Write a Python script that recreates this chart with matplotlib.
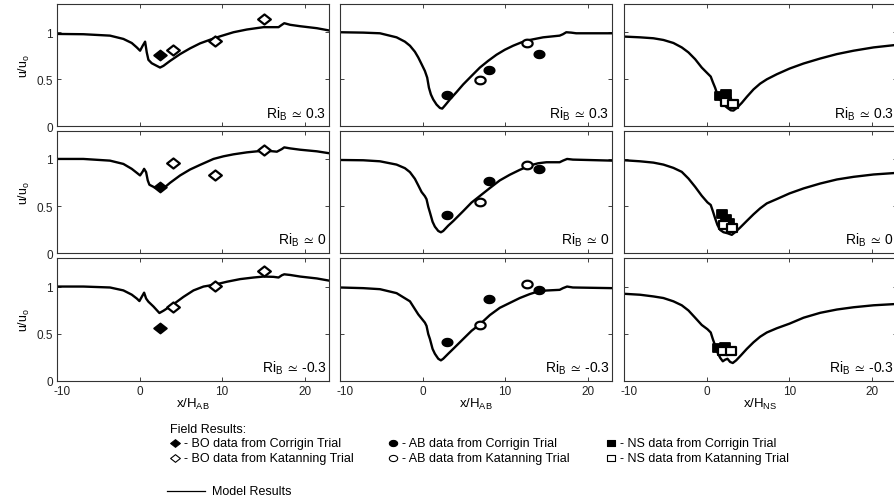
import numpy as np
import matplotlib
matplotlib.use('Agg')
import matplotlib.pyplot as plt
import matplotlib.transforms as mtransforms
from matplotlib.path import Path
from matplotlib.lines import Line2D

plt.rcParams['font.family'] = ['Liberation Sans', 'DejaVu Sans']
plt.rcParams['mathtext.fontset'] = 'custom'
plt.rcParams['mathtext.rm'] = 'Liberation Sans'
plt.rcParams['mathtext.it'] = 'Liberation Sans:italic'
plt.rcParams['mathtext.bf'] = 'Liberation Sans:bold'
plt.rcParams['mathtext.fallback'] = 'stixsans'
plt.rcParams['axes.unicode_minus'] = False

# ---------------- data ----------------
ri_labels = ['0.3', '0', '-0.3']
x_ticks = [-10, 0, 10, 20]
y_ticks = [0, 0.5, 1]
y_tick_labels = ['0', '0.5', '1']
x_labels = ['AB', 'AB', 'NS']

# BO model curves
bo_x_1 = [-10, -6.81, -3.58, -1.96, -0.95, -0.34, 0.06, 0.38, 0.67, 0.87, 1.07, 1.47, 2.08, 2.48, 2.89,
          3.70, 4.91, 6.12, 7.33, 8.55, 9.76, 11.37, 12.99, 15.01, 16.83, 17.23, 17.52, 18.24, 19.45, 21.47, 23.0]
bo_y_1 = [0.982, 0.979, 0.964, 0.929, 0.886, 0.839, 0.804, 0.857, 0.900, 0.786, 0.707, 0.671, 0.643, 0.625, 0.643,
          0.696, 0.768, 0.829, 0.882, 0.921, 0.957, 1.0, 1.029, 1.054, 1.054, 1.079, 1.096, 1.079, 1.064, 1.043, 1.018]
bo_x_2 = [-10, -6.81, -3.58, -1.96, -0.95, -0.34, 0.06, 0.38, 0.55, 0.79, 0.99, 1.19, 1.72, 2.48, 3.09, 3.70,
          4.91, 6.12, 7.33, 8.95, 10.16, 11.37, 12.99, 15.01, 15.82, 16.63, 17.23, 17.52, 18.24, 19.45, 21.47, 23.0]
bo_y_2 = [1.0, 1.0, 0.982, 0.947, 0.895, 0.853, 0.825, 0.867, 0.895, 0.860, 0.772, 0.726, 0.702, 0.684, 0.702, 0.747,
          0.825, 0.888, 0.937, 1.0, 1.028, 1.049, 1.070, 1.088, 1.084, 1.077, 1.105, 1.123, 1.112, 1.098, 1.081, 1.060]
bo_x_3 = [-10, -6.81, -3.58, -1.96, -0.95, -0.34, -0.02, 0.26, 0.55, 0.79, 1.07, 1.68, 2.40, 2.89, 3.49, 4.10,
          5.31, 6.53, 7.74, 9.15, 10.57, 12.18, 13.80, 15.01, 16.22, 16.83, 17.23, 17.52, 18.24, 19.45, 21.47, 23.0]
bo_y_3 = [1.0, 1.0, 0.990, 0.959, 0.914, 0.873, 0.846, 0.890, 0.935, 0.873, 0.839, 0.788, 0.719, 0.743, 0.777, 0.812,
          0.890, 0.959, 1.0, 1.021, 1.051, 1.079, 1.096, 1.106, 1.103, 1.096, 1.120, 1.130, 1.123, 1.106, 1.086, 1.062]

# BO field data
bo_cor_x = [2.5]
bo_cor_y_1 = [0.757]
bo_cor_y_2 = [0.70]
bo_cor_y_3 = [0.565]
bo_kat_x = [4.0, 9.15, 15.1]
bo_kat_y_1 = [0.81, 0.91, 1.14]
bo_kat_y_2 = [0.96, 0.83, 1.095]
bo_kat_y_3 = [0.78, 1.01, 1.17]

# AB model curves
ab_x_1 = [-10, -7.18, -5.16, -3.15, -2.14, -1.53, -0.93, -0.52, -0.12, 0.28, 0.56, 0.77, 1.01, 1.29, 1.69, 2.10,
          2.38, 2.70, 3.31, 4.11, 4.92, 5.93, 6.94, 7.94, 8.95, 9.96, 10.97, 11.98, 12.98, 14.6, 16.6, 17.0, 17.4,
          18.0, 18.6, 23.0]
ab_y_1 = [1.0, 0.996, 0.989, 0.946, 0.90, 0.857, 0.793, 0.732, 0.661, 0.589, 0.518, 0.411, 0.339, 0.286, 0.232, 0.196,
          0.189, 0.221, 0.286, 0.364, 0.446, 0.536, 0.625, 0.696, 0.761, 0.814, 0.857, 0.893, 0.918, 0.946, 0.964, 0.979, 1.0,
          0.996, 0.989, 0.989]
ab_x_2 = [-10, -7.18, -5.16, -3.15, -2.14, -1.53, -0.93, -0.52, -0.12, 0.28, 0.48, 0.69, 0.89, 1.21, 1.49, 1.90,
          2.22, 2.50, 3.10, 3.71, 4.92, 5.93, 6.94, 8.15, 9.35, 10.56, 11.77, 12.98, 13.99, 15.0, 16.6, 17.0, 17.5,
          18.2, 23.0]
ab_y_2 = [0.989, 0.986, 0.975, 0.940, 0.902, 0.860, 0.789, 0.719, 0.649, 0.604, 0.572, 0.491, 0.432, 0.333, 0.281, 0.235,
          0.221, 0.235, 0.291, 0.340, 0.446, 0.537, 0.607, 0.691, 0.772, 0.832, 0.884, 0.930, 0.954, 0.965, 0.965, 0.982, 1.0,
          0.993, 0.982]
ab_x_3 = [-10, -7.18, -5.16, -3.15, -1.53, -0.52, 0.28, 0.48, 0.69, 0.89, 1.21, 1.49, 1.90, 2.22, 2.50, 3.10, 3.71,
          4.92, 5.93, 6.94, 8.15, 9.35, 10.56, 11.77, 12.98, 13.99, 15.0, 16.6, 17.0, 17.5, 18.2, 23.0]
ab_y_3 = [0.990, 0.983, 0.972, 0.930, 0.843, 0.704, 0.617, 0.582, 0.495, 0.443, 0.338, 0.286, 0.233, 0.216, 0.233,
          0.286, 0.338, 0.443, 0.530, 0.599, 0.697, 0.774, 0.826, 0.878, 0.920, 0.948, 0.958, 0.965, 0.983, 1.0, 0.990, 0.983]

# AB field data
ab_cor_x = [2.9, 8.1, 14.1]
ab_cor_y_1 = [0.33, 0.60, 0.764]
ab_cor_y_2 = [0.40, 0.765, 0.895]
ab_cor_y_3 = [0.415, 0.87, 0.965]
ab_kat_x = [7.0, 12.6]
ab_kat_y_1 = [0.49, 0.89]
ab_kat_y_2 = [0.54, 0.94]
ab_kat_y_3 = [0.59, 1.03]

# NS model curves
ns_x_1 = [-10, -8.08, -6.46, -5.25, -4.04, -3.03, -2.22, -1.41, -0.61, 0.08, 0.48, 0.73, 1.01, 1.29, 1.62, 2.02, 2.51,
          2.91, 3.23, 3.64, 4.24, 4.85, 5.66, 6.46, 7.27, 8.48, 10.02, 11.72, 13.74, 15.76, 17.78, 20.20, 23.0]
ns_y_1 = [0.954, 0.946, 0.936, 0.918, 0.886, 0.839, 0.786, 0.714, 0.625, 0.564, 0.529, 0.471, 0.411, 0.339, 0.286, 0.232,
          0.196, 0.171, 0.168, 0.196, 0.25, 0.314, 0.393, 0.454, 0.50, 0.554, 0.614, 0.668, 0.721, 0.768, 0.804, 0.839, 0.866]
ns_x_2 = [-10, -8.08, -6.46, -5.25, -4.04, -3.03, -2.22, -1.41, -0.61, 0.08, 0.48, 0.73, 1.01, 1.29, 1.62, 2.02, 2.51,
          3.03, 3.43, 4.04, 4.85, 5.66, 6.46, 7.27, 8.48, 10.02, 11.72, 13.74, 15.76, 17.78, 20.20, 23.0]
ns_y_2 = [0.986, 0.975, 0.961, 0.940, 0.905, 0.863, 0.792, 0.704, 0.609, 0.539, 0.511, 0.447, 0.370, 0.299, 0.246, 0.222,
          0.211, 0.194, 0.222, 0.271, 0.342, 0.412, 0.475, 0.528, 0.574, 0.634, 0.687, 0.739, 0.782, 0.810, 0.835, 0.852]
ns_x_3 = [-10, -8.08, -6.46, -5.25, -4.04, -3.03, -2.22, -1.41, -0.61, 0.08, 0.48, 0.73, 1.01, 1.29, 1.62, 1.94, 2.22,
          2.51, 2.83, 3.15, 3.56, 4.12, 4.85, 5.66, 6.46, 7.27, 8.48, 10.02, 11.72, 13.74, 15.76, 17.78, 20.20, 23.0]
ns_y_3 = [0.923, 0.913, 0.895, 0.878, 0.843, 0.801, 0.746, 0.669, 0.592, 0.547, 0.512, 0.443, 0.373, 0.303, 0.244, 0.206,
          0.223, 0.233, 0.199, 0.188, 0.216, 0.268, 0.338, 0.408, 0.467, 0.512, 0.557, 0.606, 0.669, 0.721, 0.756, 0.780,
          0.801, 0.815]

# NS field data
ns_cor_x_1 = [1.6, 2.3]
ns_cor_y_1 = [0.32, 0.34]
ns_kat_x_1 = [2.3, 3.15]
ns_kat_y_1 = [0.26, 0.24]
ns_cor_x_2 = [1.8, 2.3, 2.7]
ns_cor_y_2 = [0.41, 0.36, 0.32]
ns_kat_x_2 = [2.1, 3.0]
ns_kat_y_2 = [0.30, 0.27]
ns_cor_x_3 = [1.4, 2.2]
ns_cor_y_3 = [0.35, 0.355]
ns_kat_x_3 = [2.0, 2.9]
ns_kat_y_3 = [0.32, 0.32]

# ---------------- markers (image is slightly stretched horizontally) ----------------
diamond = Path([(-1.27, 0), (0, 1), (1.27, 0), (0, -1), (-1.27, 0)],
               [Path.MOVETO, Path.LINETO, Path.LINETO, Path.LINETO, Path.CLOSEPOLY])
t = np.linspace(0, 2 * np.pi, 41)
ellipse = Path(np.column_stack([1.35 * np.cos(t), np.sin(t)]), closed=True)
rect = Path([(-1.35, -1), (1.35, -1), (1.35, 1), (-1.35, 1), (-1.35, -1)],
            [Path.MOVETO, Path.LINETO, Path.LINETO, Path.LINETO, Path.CLOSEPOLY])

W, H = 895, 502
fig = plt.figure(figsize=(W / 100, H / 100), dpi=100)

col_left = [57, 340, 624.2]
col_w = 272.5
row_top = [5, 131.7, 259.3]
row_h = 122.4

model = [
    [(bo_x_1, bo_y_1), (ab_x_1, ab_y_1), (ns_x_1, ns_y_1)],
    [(bo_x_2, bo_y_2), (ab_x_2, ab_y_2), (ns_x_2, ns_y_2)],
    [(bo_x_3, bo_y_3), (ab_x_3, ab_y_3), (ns_x_3, ns_y_3)],
]
cor = [
    [(bo_cor_x, bo_cor_y_1), (ab_cor_x, ab_cor_y_1), (ns_cor_x_1, ns_cor_y_1)],
    [(bo_cor_x, bo_cor_y_2), (ab_cor_x, ab_cor_y_2), (ns_cor_x_2, ns_cor_y_2)],
    [(bo_cor_x, bo_cor_y_3), (ab_cor_x, ab_cor_y_3), (ns_cor_x_3, ns_cor_y_3)],
]
kat = [
    [(bo_kat_x, bo_kat_y_1), (ab_kat_x, ab_kat_y_1), (ns_kat_x_1, ns_kat_y_1)],
    [(bo_kat_x, bo_kat_y_2), (ab_kat_x, ab_kat_y_2), (ns_kat_x_2, ns_kat_y_2)],
    [(bo_kat_x, bo_kat_y_3), (ab_kat_x, ab_kat_y_3), (ns_kat_x_3, ns_kat_y_3)],
]
col_marker = [diamond, ellipse, rect]
col_msize = [9.2, 7.4, 7.0]

for r in range(3):
    for c in range(3):
        ax = fig.add_axes([col_left[c] / W, 1 - (row_top[r] + row_h) / H, col_w / W, row_h / H])
        mx, my = model[r][c]
        ax.plot(mx, my, color='black', lw=1.7, zorder=2, solid_joinstyle='round')
        cx, cy = cor[r][c]
        ax.plot(cx, cy, ls='none', marker=col_marker[c], ms=col_msize[c],
                mfc='black', mec='black', mew=1.3, zorder=3)
        kx, ky = kat[r][c]
        ax.plot(kx, ky, ls='none', marker=col_marker[c], ms=col_msize[c],
                mfc='white', mec='black', mew=1.6, zorder=4)
        ax.set_xlim(-10, 23)
        ax.set_ylim(0, 1.3)
        ax.set_xticks(x_ticks)
        ax.set_yticks(y_ticks)
        ax.tick_params(direction='in', top=True, right=True, length=3, width=0.6,
                       labelsize=8.5, pad=3, colors='#222222')
        for s in ax.spines.values():
            s.set_linewidth(0.8)
            s.set_color('#333333')
        if c == 0:
            ax.set_yticklabels(y_tick_labels)
            ax.set_ylabel(r'u/u$_{\mathrm{o}}$', fontsize=9, labelpad=3)
        else:
            ax.set_yticklabels([])
        if r == 2:
            ax.set_xticklabels([str(v) for v in x_ticks])
            ax.set_xlabel(r'x/H$_{\mathrm{' + x_labels[c] + '}}$', fontsize=9.5, labelpad=-1)
            first = ax.get_xticklabels()[0]
            first.set_transform(first.get_transform() +
                                mtransforms.ScaledTranslation(5 / 100, 0, fig.dpi_scale_trans))
        else:
            ax.set_xticklabels([])
        ax.text(1 - 3 / col_w, 9 / row_h, r'Ri$_{\mathrm{B}}\:\simeq\:$' + ri_labels[r],
                transform=ax.transAxes, ha='right', va='baseline', fontsize=10)

# ---------------- legend ----------------
def fx(px):
    return px / W

def fy(py):
    return 1 - py / H

leg_fs = 9.0
fig.text(fx(170), fy(430), 'Field Results:', fontsize=leg_fs, va='center', ha='left')
leg_cols = [
    (175, diamond, 7.0, ['BO data from Corrigin Trial', 'BO data from Katanning Trial']),
    (393, ellipse, 6.0, ['AB data from Corrigin Trial', 'AB data from Katanning Trial']),
    (611, rect, 5.5, ['NS data from Corrigin Trial', 'NS data from Katanning Trial']),
]
row_y = [444, 459]
for (mx, mk, ms, texts) in leg_cols:
    for i, yy in enumerate(row_y):
        fc = 'black' if i == 0 else 'white'
        fig.add_artist(Line2D([fx(mx)], [fy(yy)], transform=fig.transFigure, ls='none',
                              marker=mk, ms=ms, mfc=fc, mec='black', mew=0.8))
        fig.text(fx(mx + 9), fy(yy), '- ' + texts[i], fontsize=leg_fs, va='center', ha='left')

fig.add_artist(Line2D([fx(167), fx(205)], [fy(492), fy(492)], transform=fig.transFigure,
                      color='black', lw=0.9))
fig.text(fx(212), fy(492), 'Model Results', fontsize=leg_fs, va='center', ha='left')

fig.savefig('out.png', dpi=100)
